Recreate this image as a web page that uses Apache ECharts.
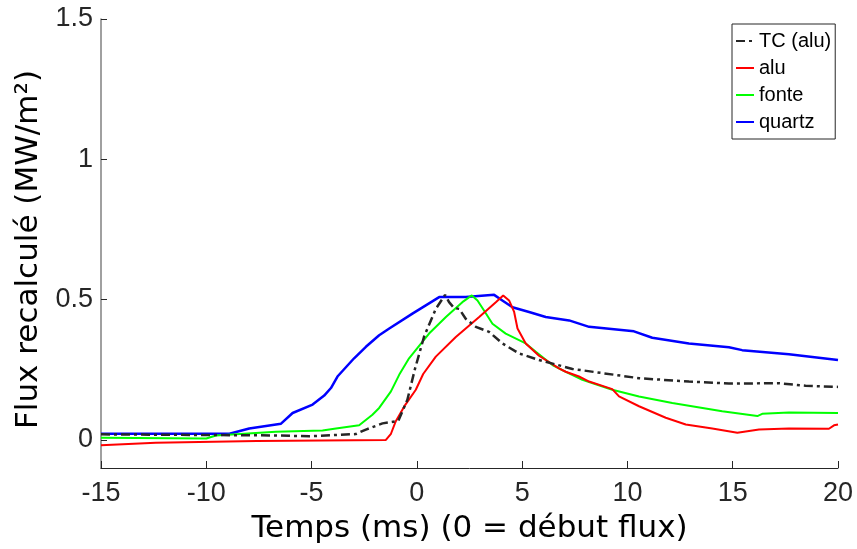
<!DOCTYPE html>
<html>
<head>
<meta charset="utf-8">
<script src="https://cdn.jsdelivr.net/npm/echarts@6/dist/echarts.min.js"></script>
<style>
html,body{margin:0;padding:0;background:#fff;}
#chart{width:857px;height:549px;}
</style>
</head>
<body>
<div id="chart"></div>
<script>
// Tick labels
const xTicks = [-15, -10, -5, 0, 5, 10, 15, 20];
const yTicks = [0, 0.5, 1, 1.5];

// Series names
const seriesNames = ['TC (alu)', 'alu', 'fonte', 'quartz'];

// TC (alu) - dash-dot black
const tcT = [-15, -8.9, -6.7, -5.11, -2.9, -2.42, -1.63, -0.88, -0.45, -0.09, 0.35, 0.90, 1.34, 1.53, 1.77, 2.01, 2.32, 2.80, 3.43, 4.06, 4.86, 5.80, 7.39, 10.55, 12.92, 14.82, 17.2, 18.46, 20];
const tcV = [0.02, 0.017, 0.016, 0.013, 0.021, 0.037, 0.059, 0.068, 0.143, 0.253, 0.37, 0.467, 0.517, 0.491, 0.470, 0.467, 0.432, 0.403, 0.385, 0.344, 0.308, 0.285, 0.253, 0.220, 0.208, 0.201, 0.202, 0.193, 0.189];

// alu - red
const aluT = [-15, -12.4, -7.6, -1.47, -1.23, -1.0, -0.55, -0.05, 0.3, 0.9, 1.85, 2.96, 3.75, 4.10, 4.38, 4.62, 4.78, 5.17, 5.80, 6.75, 7.07, 7.70, 8.18, 9.28, 9.60, 10.55, 11.82, 12.77, 14.03, 15.22, 16.25, 17.67, 19.57, 19.81, 20];
const aluV = [-0.019, -0.010, -0.004, 0.0, 0.022, 0.067, 0.125, 0.179, 0.235, 0.297, 0.367, 0.438, 0.491, 0.515, 0.497, 0.456, 0.397, 0.344, 0.300, 0.255, 0.243, 0.226, 0.208, 0.181, 0.155, 0.12, 0.079, 0.055, 0.041, 0.026, 0.037, 0.041, 0.040, 0.052, 0.055];

// fonte - green
const fonteT = [-15, -10.0, -9.54, -6.7, -4.48, -3.84, -2.74, -2.11, -1.79, -1.23, -0.84, -0.37, 0.27, 0.58, 1.38, 2.16, 2.61, 2.88, 3.19, 3.59, 4.22, 5.17, 5.65, 6.44, 7.0, 7.86, 9.28, 10.55, 12.13, 14.5, 16.17, 16.4, 17.67, 20];
const fonteV = [0.008, 0.005, 0.016, 0.029, 0.034, 0.041, 0.052, 0.090, 0.114, 0.173, 0.232, 0.291, 0.350, 0.379, 0.438, 0.491, 0.515, 0.497, 0.461, 0.414, 0.379, 0.344, 0.314, 0.267, 0.245, 0.214, 0.179, 0.155, 0.132, 0.102, 0.085, 0.093, 0.098, 0.096];

// quartz - blue
const quartzT = [-15, -8.9, -7.96, -6.45, -5.9, -4.95, -4.4, -4.08, -3.77, -2.98, -2.42, -1.79, -1.31, -0.21, 1.06, 2.32, 3.67, 4.06, 4.54, 5.33, 6.12, 7.23, 8.18, 10.31, 11.18, 12.92, 14.82, 15.45, 17.67, 20];
const quartzV = [0.022, 0.022, 0.041, 0.058, 0.096, 0.126, 0.158, 0.185, 0.226, 0.291, 0.332, 0.373, 0.397, 0.450, 0.509, 0.509, 0.517, 0.497, 0.473, 0.456, 0.438, 0.426, 0.403, 0.387, 0.364, 0.344, 0.330, 0.320, 0.305, 0.285];

function pairs(t, v) { return t.map((x, i) => [x, v[i]]); }

const chart = echarts.init(document.getElementById('chart'), null, {renderer: 'canvas'});
const tickFont = 'Liberation Sans, Arial, sans-serif';
const titleFont = 'DejaVu Sans, sans-serif';

const option = {
  animation: false,
  backgroundColor: '#ffffff',
  grid: {left: 101, right: 19, top: 19, bottom: 79, containLabel: false},
  legend: {
    orient: 'vertical',
    left: 732,
    top: 24,
    padding: [7, 4, 7, 3],
    itemWidth: 18,
    itemHeight: 14,
    itemGap: 7,
    borderColor: '#262626',
    borderWidth: 1,
    backgroundColor: '#fff',
    itemStyle: {opacity: 0, color: 'transparent', borderWidth: 0},
    textStyle: {fontFamily: tickFont, fontSize: 20, color: '#000'},
    data: seriesNames
  },
  xAxis: {
    type: 'value',
    min: -15, max: 20, interval: 5,
    name: 'Temps (ms) (0 = début flux)',
    nameLocation: 'middle',
    nameGap: 45,
    nameTextStyle: {fontFamily: titleFont, fontSize: 31, color: '#000'},
    axisLine: {show: true, onZero: false, lineStyle: {color: '#262626', width: 1}},
    axisTick: {show: true, inside: true, length: 7, lineStyle: {color: '#262626'}, customValues: xTicks},
    axisLabel: {fontFamily: tickFont, fontSize: 27, color: '#262626', margin: 12, customValues: xTicks},
    splitLine: {show: false}
  },
  yAxis: {
    type: 'value',
    min: -0.1, max: 1.5,
    name: 'Flux recalculé (MW/m²)',
    nameLocation: 'middle',
    nameGap: 56,
    nameTextStyle: {fontFamily: titleFont, fontSize: 31, color: '#000', padding: [0, 12, 0, 0]},
    axisLine: {show: true, onZero: false, lineStyle: {color: '#808080', width: 1.5}},
    axisTick: {show: true, inside: true, length: 6, lineStyle: {color: '#262626'}, customValues: yTicks},
    axisLabel: {fontFamily: tickFont, fontSize: 27, color: '#262626', margin: 8, customValues: yTicks,
      formatter: v => String(v)},
    splitLine: {show: false}
  },
  series: [
    {name: seriesNames[0], type: 'line', data: pairs(tcT, tcV), symbol: 'none', z: 4,
      lineStyle: {color: '#262626', width: 2.5, type: [9, 4, 3, 4]}, itemStyle: {color: '#262626'}},
    {name: seriesNames[1], type: 'line', data: pairs(aluT, aluV), symbol: 'none', z: 3,
      lineStyle: {color: '#ff0000', width: 2}, itemStyle: {color: '#ff0000'}},
    {name: seriesNames[2], type: 'line', data: pairs(fonteT, fonteV), symbol: 'none', z: 2,
      lineStyle: {color: '#00ff00', width: 2}, itemStyle: {color: '#00ff00'}},
    {name: seriesNames[3], type: 'line', data: pairs(quartzT, quartzV), symbol: 'none', z: 1,
      lineStyle: {color: '#0000ff', width: 2.5}, itemStyle: {color: '#0000ff'}}
  ]
};
chart.setOption(option);
</script>
</body>
</html>
